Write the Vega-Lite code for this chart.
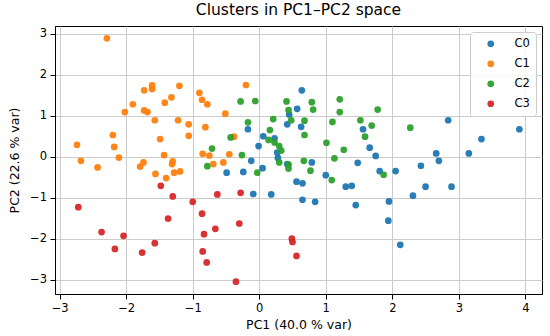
{
  "$schema": "https://vega.github.io/schema/vega-lite/v6.json",
  "autosize": {"type": "none"},
  "width": 487,
  "height": 268,
  "padding": {"left": 55, "top": 26, "right": 8, "bottom": 42},
  "background": "white",
  "title": {"text": "Clusters in PC1–PC2 space", "font": "DejaVu Sans", "fontSize": 15.5, "fontWeight": "normal", "color": "black", "anchor": "middle", "offset": 7.5},
  "config": {
    "view": {"stroke": "black", "strokeWidth": 1},
    "axis": {
      "labelFont": "DejaVu Sans", "labelFontSize": 11.5, "labelColor": "black",
      "titleFont": "DejaVu Sans", "titleFontSize": 12.5, "titleFontWeight": "normal", "titleColor": "black",
      "domainColor": "black", "tickColor": "black", "tickSize": 5,
      "gridColor": "#cccccc", "gridWidth": 1
    },
    "legend": {
      "orient": "top-right", "offset": 6, "padding": 6,
      "fillColor": "rgba(255,255,255,0.85)", "strokeColor": "#cccccc", "cornerRadius": 3,
      "labelFont": "DejaVu Sans", "labelFontSize": 11.5, "labelColor": "black",
      "symbolSize": 45, "symbolOffset": 9, "labelOffset": 18, "rowPadding": 7,
      "symbolStrokeWidth": 0
    }
  },
  "data": {"values": [
    {"c":"C0","x":-0.17,"y":0.67},{"c":"C0","x":0.06,"y":0.50},{"c":"C0","x":0.23,"y":0.45},{"c":"C0","x":-0.01,"y":0.26},
    {"c":"C0","x":0.27,"y":0.10},{"c":"C0","x":0.28,"y":-0.03},{"c":"C0","x":0.64,"y":1.62},{"c":"C0","x":0.57,"y":1.17},
    {"c":"C0","x":0.45,"y":1.03},{"c":"C0","x":0.42,"y":0.79},{"c":"C0","x":0.63,"y":0.73},{"c":"C0","x":1.56,"y":0.67},
    {"c":"C0","x":1.66,"y":0.22},{"c":"C0","x":1.75,"y":0.02},{"c":"C0","x":-0.12,"y":-0.10},{"c":"C0","x":0.79,"y":-0.14},
    {"c":"C0","x":2.84,"y":0.89},{"c":"C0","x":3.91,"y":0.67},{"c":"C0","x":3.34,"y":0.43},{"c":"C0","x":3.15,"y":0.08},
    {"c":"C0","x":2.66,"y":0.08},{"c":"C0","x":2.70,"y":-0.10},{"c":"C0","x":1.48,"y":-0.15},{"c":"C0","x":1.81,"y":-0.35},
    {"c":"C0","x":2.05,"y":-0.35},{"c":"C0","x":2.43,"y":-0.22},{"c":"C0","x":2.50,"y":-0.73},{"c":"C0","x":2.89,"y":-0.73},
    {"c":"C0","x":2.31,"y":-0.95},{"c":"C0","x":1.95,"y":-1.09},{"c":"C0","x":1.94,"y":-1.56},{"c":"C0","x":2.12,"y":-2.15},
    {"c":"C0","x":1.45,"y":-1.18},{"c":"C0","x":-0.49,"y":-0.39},{"c":"C0","x":-0.24,"y":-0.37},{"c":"C0","x":0.05,"y":-0.28},
    {"c":"C0","x":-0.09,"y":-0.91},{"c":"C0","x":0.18,"y":-0.92},{"c":"C0","x":0.42,"y":-0.18},{"c":"C0","x":0.56,"y":-0.61},
    {"c":"C0","x":0.65,"y":-0.65},{"c":"C0","x":0.65,"y":-1.05},{"c":"C0","x":0.84,"y":-1.10},{"c":"C0","x":1.00,"y":-0.45},
    {"c":"C0","x":1.30,"y":-0.73},{"c":"C0","x":1.39,"y":-0.71},
    {"c":"C1","x":-2.29,"y":2.89},{"c":"C1","x":-2.74,"y":0.29},{"c":"C1","x":-2.20,"y":0.53},{"c":"C1","x":-2.18,"y":0.24},
    {"c":"C1","x":-2.11,"y":-0.02},{"c":"C1","x":-2.68,"y":-0.10},{"c":"C1","x":-2.02,"y":1.09},{"c":"C1","x":-1.90,"y":1.28},
    {"c":"C1","x":-1.73,"y":1.62},{"c":"C1","x":-1.61,"y":1.74},{"c":"C1","x":-1.61,"y":1.65},{"c":"C1","x":-1.73,"y":1.13},
    {"c":"C1","x":-1.68,"y":1.09},{"c":"C1","x":-1.57,"y":0.89},{"c":"C1","x":-1.42,"y":1.32},{"c":"C1","x":-1.32,"y":1.45},
    {"c":"C1","x":-1.20,"y":1.73},{"c":"C1","x":-1.49,"y":0.43},{"c":"C1","x":-1.22,"y":0.89},{"c":"C1","x":-1.06,"y":0.79},
    {"c":"C1","x":-1.06,"y":0.51},{"c":"C1","x":-1.43,"y":0.04},{"c":"C1","x":-0.90,"y":1.56},{"c":"C1","x":-0.86,"y":1.39},
    {"c":"C1","x":-0.78,"y":1.28},{"c":"C1","x":-0.81,"y":0.72},{"c":"C1","x":-0.85,"y":0.07},{"c":"C1","x":-0.75,"y":0.03},
    {"c":"C1","x":-0.20,"y":1.75},{"c":"C1","x":-0.51,"y":1.05},{"c":"C1","x":-0.38,"y":0.49},{"c":"C1","x":-0.45,"y":0.06},
    {"c":"C1","x":-0.54,"y":-0.14},{"c":"C1","x":-0.69,"y":-0.18},{"c":"C1","x":-2.43,"y":-0.26},{"c":"C1","x":-1.79,"y":-0.24},
    {"c":"C1","x":-1.74,"y":-0.14},{"c":"C1","x":-1.56,"y":-0.42},{"c":"C1","x":-1.40,"y":-0.52},{"c":"C1","x":-1.31,"y":-0.18},
    {"c":"C1","x":-1.30,"y":-0.11},{"c":"C1","x":-1.28,"y":-0.39},{"c":"C1","x":-1.19,"y":-0.36},
    {"c":"C2","x":-0.71,"y":0.20},{"c":"C2","x":-0.28,"y":1.35},{"c":"C2","x":-0.06,"y":1.36},{"c":"C2","x":-0.17,"y":0.84},
    {"c":"C2","x":-0.43,"y":0.47},{"c":"C2","x":-0.26,"y":0.04},{"c":"C2","x":0.41,"y":1.35},{"c":"C2","x":0.44,"y":1.14},
    {"c":"C2","x":0.48,"y":0.89},{"c":"C2","x":0.21,"y":0.92},{"c":"C2","x":0.16,"y":0.65},{"c":"C2","x":0.14,"y":0.41},
    {"c":"C2","x":0.23,"y":0.35},{"c":"C2","x":0.30,"y":0.26},{"c":"C2","x":0.33,"y":0.15},{"c":"C2","x":0.68,"y":0.88},
    {"c":"C2","x":0.68,"y":0.53},{"c":"C2","x":0.79,"y":1.33},{"c":"C2","x":0.81,"y":1.15},{"c":"C2","x":1.21,"y":1.40},
    {"c":"C2","x":1.21,"y":1.09},{"c":"C2","x":1.10,"y":0.85},{"c":"C2","x":1.01,"y":0.34},{"c":"C2","x":1.27,"y":0.17},
    {"c":"C2","x":1.52,"y":0.89},{"c":"C2","x":1.59,"y":0.49},{"c":"C2","x":1.69,"y":0.76},{"c":"C2","x":1.78,"y":1.15},
    {"c":"C2","x":2.27,"y":0.71},{"c":"C2","x":0.67,"y":-0.10},{"c":"C2","x":1.13,"y":-0.04},{"c":"C2","x":-0.78,"y":-0.23},
    {"c":"C2","x":-0.03,"y":-0.39},{"c":"C2","x":0.30,"y":-0.14},{"c":"C2","x":0.44,"y":-0.19},{"c":"C2","x":0.44,"y":-0.29},
    {"c":"C2","x":0.77,"y":-0.34},{"c":"C2","x":1.09,"y":-0.57},{"c":"C2","x":1.87,"y":-0.44},
    {"c":"C3","x":-0.63,"y":-0.92},{"c":"C3","x":-0.28,"y":-0.88},{"c":"C3","x":-0.86,"y":-1.39},{"c":"C3","x":-0.83,"y":-1.89},
    {"c":"C3","x":-0.66,"y":-1.76},{"c":"C3","x":-0.30,"y":-1.63},{"c":"C3","x":-0.85,"y":-2.31},{"c":"C3","x":-0.79,"y":-2.58},
    {"c":"C3","x":-0.35,"y":-3.05},{"c":"C3","x":0.49,"y":-2.00},{"c":"C3","x":0.50,"y":-2.08},{"c":"C3","x":0.56,"y":-2.42},
    {"c":"C3","x":-1.48,"y":-0.71},{"c":"C3","x":-1.30,"y":-0.97},{"c":"C3","x":-2.72,"y":-1.23},{"c":"C3","x":-1.37,"y":-1.51},
    {"c":"C3","x":-1.00,"y":-1.10},{"c":"C3","x":-2.37,"y":-1.84},{"c":"C3","x":-2.04,"y":-1.93},{"c":"C3","x":-2.17,"y":-2.25},
    {"c":"C3","x":-1.76,"y":-2.34},{"c":"C3","x":-1.57,"y":-2.11}
  ]},
  "mark": {"type": "circle", "size": 45, "opacity": 0.95},
  "encoding": {
    "x": {"field": "x", "type": "quantitative",
      "scale": {"domain": [-3.07, 4.25], "nice": false, "zero": false},
      "axis": {"values": [-3,-2,-1,0,1,2,3,4], "title": "PC1 (40.0 % var)", "titlePadding": 5, "labelPadding": 3}},
    "y": {"field": "y", "type": "quantitative",
      "scale": {"domain": [-3.35, 3.19], "nice": false, "zero": false},
      "axis": {"values": [-3,-2,-1,0,1,2,3], "title": "PC2 (22.6 % var)", "titlePadding": 8, "labelPadding": 3.5}},
    "color": {"field": "c", "type": "nominal",
      "scale": {"domain": ["C0","C1","C2","C3"], "range": ["#1f77b4","#ff7f0e","#2ca02c","#d62728"]},
      "legend": {"title": null}}
  }
}
